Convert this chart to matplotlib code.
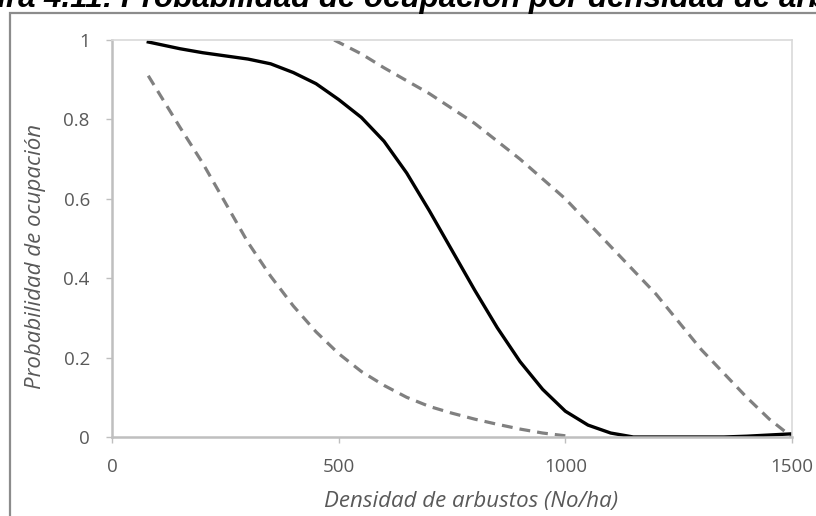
import matplotlib
matplotlib.use('Agg')
import matplotlib.pyplot as plt
from matplotlib.patches import Rectangle

dens_mid = [80, 150, 200, 250, 300, 350, 400, 450, 500, 550, 600, 650, 700, 750,
            800, 850, 900, 950, 1000, 1050, 1100, 1150, 1200, 1300, 1350, 1400, 1450, 1500]
prob_mid = [0.995, 0.978, 0.968, 0.960, 0.952, 0.940, 0.918, 0.890, 0.850, 0.805,
            0.745, 0.665, 0.570, 0.470, 0.370, 0.275, 0.190, 0.120, 0.065, 0.030,
            0.010, 0.0, 0.0, 0.0, 0.0, 0.002, 0.005, 0.008]

dens_low = [80, 150, 200, 250, 300, 350, 400, 450, 500, 550, 600, 650, 700, 750,
            800, 850, 900, 950, 1000]
prob_low = [0.91, 0.78, 0.69, 0.59, 0.49, 0.405, 0.33, 0.265, 0.21, 0.165, 0.13,
            0.10, 0.077, 0.06, 0.045, 0.032, 0.02, 0.01, 0.003]

dens_up = [490, 550, 600, 700, 800, 900, 1000, 1100, 1200, 1300, 1400, 1450, 1500]
prob_up = [1.0, 0.965, 0.93, 0.865, 0.79, 0.70, 0.60, 0.48, 0.36, 0.22, 0.10, 0.045, 0.0]

xticks = [0, 500, 1000, 1500]
yticks = [0, 0.2, 0.4, 0.6, 0.8, 1]
ytick_labels = ['0', '0.2', '0.4', '0.6', '0.8', '1']

W, H = 816, 516
fig = plt.figure(figsize=(W / 100, H / 100), dpi=100)

def fx(px):
    return px / W

def fy(py):
    return 1 - py / H

# outer chart frame (cut by the picture edges)
fig.patches.append(Rectangle((fx(10), fy(560)), fx(900), fy(13) - fy(560),
                             transform=fig.transFigure, fill=False,
                             edgecolor='#8c8c8c', linewidth=1.6))

# caption, cut at the top of the picture
cap = dict(va='baseline', fontsize=22.5, fontweight='bold', fontstyle='italic',
           family='Liberation Sans', color='black')
fig.text(fx(113), fy(7), 'Figura 4.11:', ha='right', **cap)
fig.text(fx(121), fy(7), 'Probabilidad de ocupación por densidad de arbustos',
         ha='left', **cap)

ax = fig.add_axes([fx(112), fy(437), fx(792) - fx(112), fy(40) - fy(437)])

ax.plot(dens_low, prob_low, color='#808080', lw=2.3, dashes=(3.4, 2.2),
        dash_capstyle='butt')
ax.plot(dens_up, prob_up, color='#808080', lw=2.3, dashes=(3.4, 2.2),
        dash_capstyle='butt')
ax.plot(dens_mid, prob_mid, color='black', lw=2.4)

ax.set_xlim(0, 1500)
ax.set_ylim(0, 1)
ax.set_xticks(xticks)
ax.set_xticklabels([str(t) for t in xticks])
ax.set_yticks(yticks)
ax.set_yticklabels(ytick_labels)

for s in ['left', 'bottom']:
    ax.spines[s].set_color('#bfbfbf')
    ax.spines[s].set_linewidth(1.8)
for s in ['top', 'right']:
    ax.spines[s].set_color('#d9d9d9')
    ax.spines[s].set_linewidth(1.2)

ax.tick_params(axis='both', direction='out', length=4, width=1, color='#bfbfbf',
               labelcolor='#595959', labelsize=13.5)
ax.tick_params(axis='x', pad=11)
ax.tick_params(axis='y', pad=12)
for lab in ax.get_xticklabels() + ax.get_yticklabels():
    lab.set_family('Open Sans')

ax.set_xlabel('Densidad de arbustos (No/ha)', fontsize=16, fontstyle='italic',
              color='#595959', family='Open Sans')
ax.xaxis.set_label_coords((471 - 112) / (792 - 112), -(501 - 437) / (437 - 40))
ax.set_ylabel('Probabilidad de ocupación', fontsize=16, fontstyle='italic',
              color='#595959', family='Open Sans')
ax.yaxis.set_label_coords(-(112 - 35) / (792 - 112), (437 - 256) / (437 - 40))
ax.xaxis.label.set_va('center')
ax.yaxis.label.set_va('center')

fig.savefig('out.png', dpi=100)
